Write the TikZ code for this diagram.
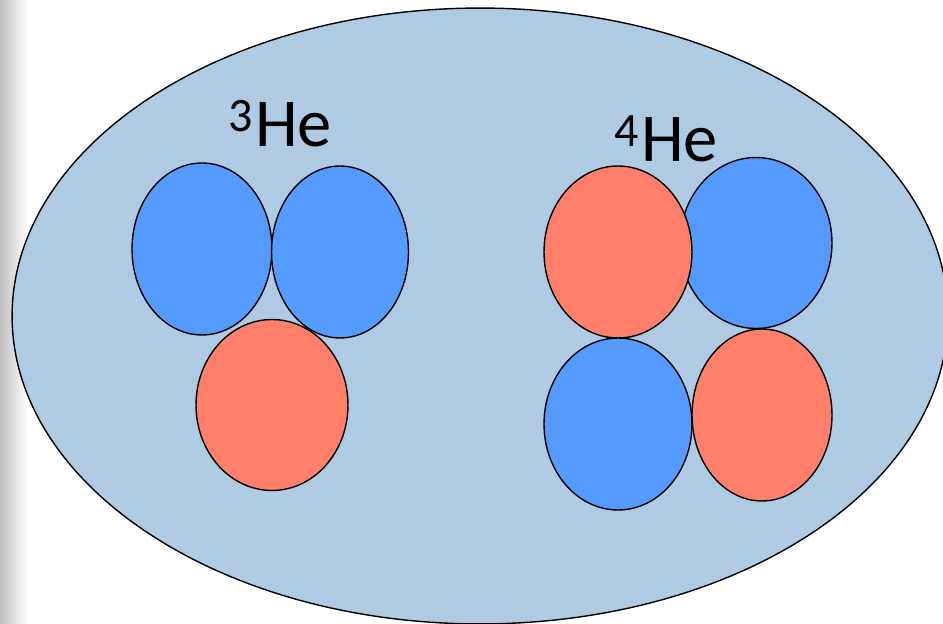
\documentclass[tikz,border=0pt]{standalone}
\usepackage{fontspec}
\setmainfont{Carlito}
\usepackage{tikz}
\usetikzlibrary{shapes.geometric}

\definecolor{cellblue}{RGB}{175,203,227}
\definecolor{neutron}{RGB}{85,155,255}
\definecolor{proton}{RGB}{255,127,106}

\begin{document}
\begin{tikzpicture}[
    x=0.02cm, y=-0.02cm,
    nucleus/.style={ellipse, draw, line width=0.8pt, fill=cellblue, minimum width=18.72cm, minimum height=12.32cm},
    nblob/.style={ellipse, draw, line width=0.8pt, fill=neutron, inner sep=0pt},
    pblob/.style={ellipse, draw, line width=0.8pt, fill=proton, inner sep=0pt},
    label/.style={anchor=base west, inner sep=0pt, font=\fontsize{39}{44}\selectfont}
]
\useasboundingbox (0,0) rectangle (943,624);
\clip (0,0) rectangle (943,624);
\shade[left color=black!25, right color=white] (0,0) rectangle (28,624);
\node[nucleus] (cell) at (480,316) {};

% helium-3
\node[nblob, minimum width=2.8cm, minimum height=3.44cm] (n1) at (202,249) {};
\node[nblob, minimum width=2.74cm, minimum height=3.44cm] (n2) at (340,252) {};
\node[pblob, minimum width=3.04cm, minimum height=3.42cm] (p1) at (272,405) {};
\node[label] (he3) at (228,147) {\textsuperscript{3}\kern1pt He};

% helium-4
\node[nblob, minimum width=3.04cm, minimum height=3.42cm] (n3) at (756,243) {};
\node[pblob, minimum width=2.96cm, minimum height=3.44cm] (p2) at (618,252) {};
\node[nblob, minimum width=2.96cm, minimum height=3.44cm] (n4) at (618,424) {};
\node[pblob, minimum width=2.8cm, minimum height=3.44cm] (p3) at (762,415) {};
\node[label] (he4) at (614,162) {\textsuperscript{4}\kern1pt He};
\end{tikzpicture}
\end{document}
